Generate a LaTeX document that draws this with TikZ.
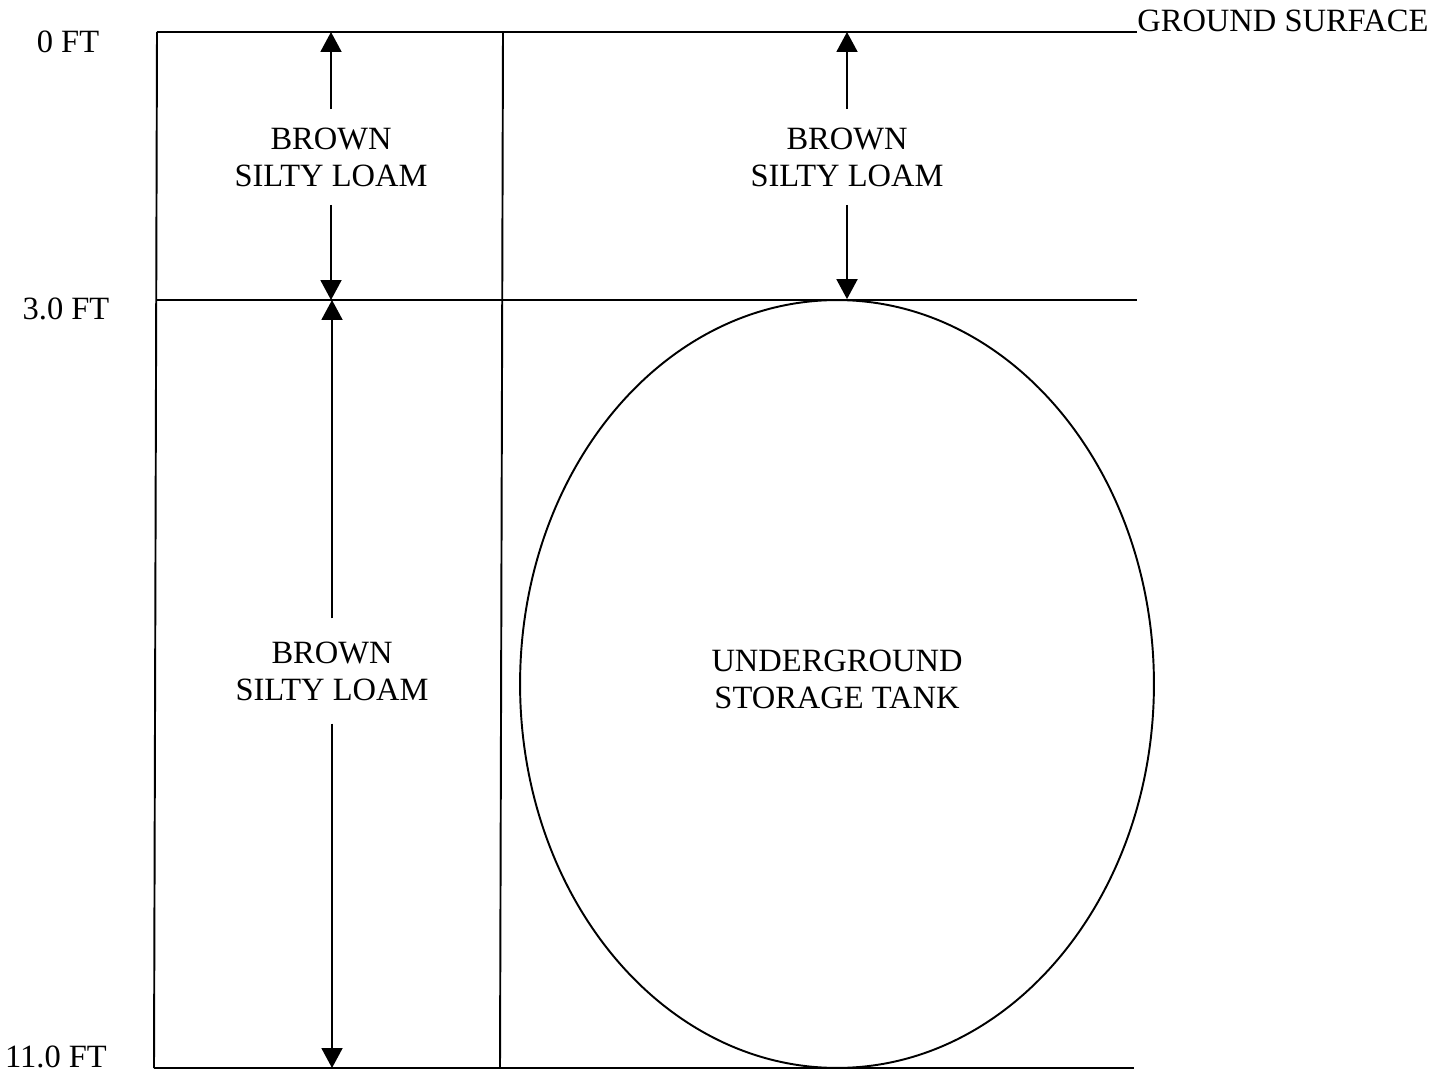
\documentclass[tikz,border=0pt]{standalone}
\usepackage{fontspec}
\setmainfont{Liberation Serif}
\usepackage{tikz}
\usetikzlibrary{arrows.meta,positioning,calc,shapes.geometric}
\tikzset{
  linea/.style={line width=1.1pt},
  capa/.style={align=center,font=\fontsize{18.5}{21}\selectfont,inner xsep=0pt,inner ysep=10.3pt},
  cota/.style={-{Triangle[width=0.42cm,length=0.4cm]},line width=1.1pt},
  prof/.style={font=\fontsize{18.5}{21}\selectfont,inner sep=0pt}
}

\begin{document}
\begin{tikzpicture}[x=0.02cm,y=-0.02cm]
\useasboundingbox (0,0) rectangle (1447,1074);
% limites del perfil
\coordinate (supI) at (157,32);
\coordinate (supD) at (1137,32);
\coordinate (medI) at (157,300);
\coordinate (medD) at (1137,300);
\coordinate (fonI) at (154,1068);
\coordinate (fonD) at (1134,1068);
\coordinate (divS) at (503,32);
\coordinate (divF) at (500,1068);
\draw[linea] (supI) -- (supD);
\draw[linea] (medI) -- (medD);
\draw[linea] (fonI) -- (fonD);
\draw[linea] (supI) -- (fonI);
\draw[linea] (divS) -- (divF);
% profundidades
\node[prof] (p0) at (68,42) {0 FT};
\node[prof] (p3) at (66,309) {3.0 FT};
\node[prof] (p11) at (56,1057) {11.0 FT};
\node[prof,anchor=base west] (sup) at (supD) {GROUND SURFACE};
% tanque
\node[draw,ellipse,linea,minimum width=12.68cm,minimum height=15.36cm,inner sep=0pt,text depth=5.5pt,align=center,font=\fontsize{18.5}{21}\selectfont] (tanque) at (837,684) {UNDERGROUND\\STORAGE TANK};
% capas de suelo
\node[capa] (suelo1) at (331,157) {BROWN\\SILTY LOAM};
\node[capa,inner ysep=13pt] (suelo2) at (332,671) {BROWN\\SILTY LOAM};
\node[capa] (suelo3) at (847,157) {BROWN\\SILTY LOAM};
\draw[cota] (suelo1.north) -- (suelo1.north |- supI);
\draw[cota] (suelo1.south) -- (suelo1.south |- medI);
\draw[cota] (suelo2.north) -- (suelo2.north |- medI);
\draw[cota] (suelo2.south) -- (suelo2.south |- fonI);
\draw[cota] (suelo3.north) -- (suelo3.north |- supI);
\draw[cota] (suelo3.south) -- (suelo3.south |- tanque.north);
\end{tikzpicture}
\end{document}
